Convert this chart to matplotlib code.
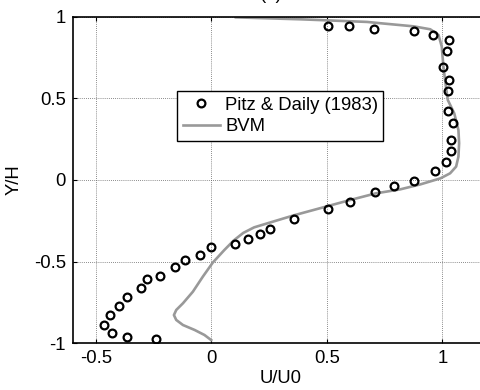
import matplotlib
matplotlib.use("Agg")
import matplotlib.pyplot as plt

plt.rcParams["font.family"] = ["Liberation Sans", "DejaVu Sans"]

# Measured profile (Pitz & Daily, 1983)
exp_u = [0.503, 0.595, 0.704, 0.877, 0.959, 1.029, 1.019, 1.004, 1.029, 1.026,
         1.026, 1.047, 1.036, 1.038, 1.017, 0.966, 0.875, 0.790, 0.710, 0.598,
         0.506, 0.358, 0.254, 0.210, 0.157, 0.101, -0.001, -0.049, -0.112,
         -0.159, -0.224, -0.278, -0.306, -0.363, -0.399, -0.438, -0.466,
         -0.428, -0.366, -0.238]
exp_y = [0.943, 0.941, 0.925, 0.910, 0.890, 0.859, 0.790, 0.692, 0.612, 0.547,
         0.424, 0.347, 0.245, 0.178, 0.112, 0.058, -0.004, -0.039, -0.075, -0.137,
         -0.180, -0.241, -0.298, -0.333, -0.359, -0.394, -0.408, -0.457, -0.490,
         -0.535, -0.588, -0.604, -0.659, -0.714, -0.772, -0.829, -0.890,
         -0.939, -0.963, -0.972]

# BVM prediction
bvm_u = [-0.001, -0.030, -0.073, -0.123, -0.152, -0.162, -0.152, -0.123,
         -0.080, -0.037, 0.006, 0.056, 0.097, 0.138, 0.185, 0.243, 0.358, 0.506,
         0.602, 0.711, 0.818, 0.904, 0.991, 1.033, 1.059, 1.069, 1.072, 1.069,
         1.051, 1.023, 1.015, 1.004, 0.997, 0.983, 0.947, 0.875, 0.731, 0.674,
         0.387, 0.106]
bvm_y = [-0.980, -0.949, -0.918, -0.888, -0.857, -0.827, -0.796, -0.755,
         -0.684, -0.592, -0.506, -0.429, -0.370, -0.324, -0.290, -0.265, -0.216,
         -0.159, -0.122, -0.082, -0.057, -0.027, 0.010, 0.041, 0.082, 0.143,
         0.225, 0.306, 0.408, 0.490, 0.571, 0.694, 0.816, 0.888, 0.923, 0.941,
         0.960, 0.968, 0.984, 0.996]

xticks = [-0.5, 0, 0.5, 1]
xtick_labels = ["-0.5", "0", "0.5", "1"]
yticks = [-1, -0.5, 0, 0.5, 1]
ytick_labels = ["-1", "-0.5", "0", "0.5", "1"]

W, H = 480, 390
fig = plt.figure(figsize=(W / 100, H / 100), dpi=100)
ax_l, ax_r, ax_t, ax_b = 72.7, 488.7, 16.7, 343.3
ax = fig.add_axes([ax_l / W, 1 - ax_b / H, (ax_r - ax_l) / W, (ax_b - ax_t) / H])

fs = 13.3
ax.plot(exp_u, exp_y, linestyle="none", marker="o", markersize=5.6,
        markerfacecolor="none", markeredgecolor="black", markeredgewidth=1.6,
        label="Pitz & Daily (1983)", zorder=3)
ax.plot(bvm_u, bvm_y, color="#999999", linewidth=1.9, label="BVM", zorder=2,
        solid_joinstyle="round")

ax.set_xlim(-0.6, 1.2)
ax.set_ylim(-1, 1)
ax.set_xticks(xticks)
ax.set_xticklabels(xtick_labels)
ax.set_yticks(yticks)
ax.set_yticklabels(ytick_labels)
ax.tick_params(direction="in", length=3, width=0.8, top=True, right=True,
               labelsize=fs, pad=5)
ax.grid(True, color="0.4", linestyle=(0, (1, 1.5)), linewidth=0.6)
for s in ax.spines.values():
    s.set_linewidth(1.2)
    s.set_color("black")

ax.set_xlabel("U/U0", fontsize=fs, labelpad=2)
ax.set_ylabel("Y/H", fontsize=fs, labelpad=8)

leg = ax.legend(loc="lower left", bbox_to_anchor=(0.2514, 0.620, 0.494, 0.160),
                mode="expand", borderaxespad=0, fontsize=fs, frameon=True,
                fancybox=False, edgecolor="black", framealpha=1,
                handlelength=2.0, handletextpad=0.3, borderpad=0.3,
                labelspacing=0.25)
leg.get_frame().set_linewidth(1.0)

fig.text(271 / W, 1 - 3 / H, "(a)", fontsize=fs, ha="center", va="bottom")

fig.savefig("out.png", dpi=100)
